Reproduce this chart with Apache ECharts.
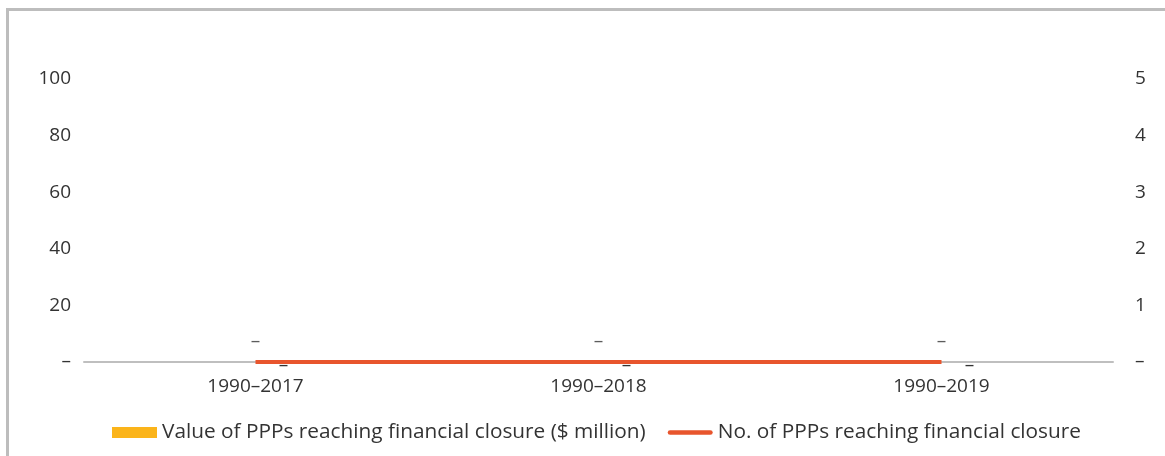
<!DOCTYPE html>
<html>
<head>
<meta charset="utf-8">
<script src="https://cdn.jsdelivr.net/npm/echarts@6/dist/echarts.min.js"></script>
<style>
  html, body { margin: 0; padding: 0; background: #fff; }
  #frame { position: absolute; left: 6px; top: 8px; width: 1159px; height: 448px;
           border-top: 3px solid #bdbdbd; border-left: 3px solid #bdbdbd; }
  #chart { position: absolute; left: 0; top: 0; width: 1165px; height: 456px; }
</style>
</head>
<body>
<div id="frame"></div>
<div id="chart"></div>
<script>
// Periods and cumulative PPP figures
const categories = ['1990–2017', '1990–2018', '1990–2019'];
const ppValue = [0, 0, 0];      // $ million
const ppCount = [0, 0, 0];      // number of PPPs
const leftTicks = { min: 0, max: 100, interval: 20 };
const rightTicks = { min: 0, max: 5, interval: 1 };

const valueName = 'Value of PPPs reaching financial closure ($ million)';
const countName = 'No. of PPPs reaching financial closure';

const dash = v => (Number(v) === 0 ? '–' : String(v));
const font = '"Open Sans", "Noto Sans", sans-serif';
const axisFont = 19;
const lineColor = '#E8552D';
// rounded stroke used as the legend key of the count line
const lineKey = 'path://M2.5,0H45.5A2.5,2.5 0 0 1 45.5,5H2.5A2.5,2.5 0 0 1 2.5,0Z';

const chart = echarts.init(document.getElementById('chart'), null, { renderer: 'canvas' });
chart.setOption({
  animation: false,
  textStyle: { fontFamily: font, color: '#333' },
  grid: { left: 84, right: 52, top: 79, bottom: 94, containLabel: false },
  legend: {
    left: 107, top: 417,
    itemWidth: 45, itemHeight: 11, itemGap: 22,
    textStyle: { fontFamily: font, fontSize: 20.8, color: '#333' },
    data: [
      { name: valueName, icon: 'rect' },
      { name: countName, icon: lineKey, itemStyle: { color: lineColor } }
    ]
  },
  xAxis: {
    type: 'category',
    data: categories,
    axisLine: { lineStyle: { color: '#bfbfbf', width: 2 } },
    axisTick: { show: false },
    axisLabel: { fontSize: axisFont, color: '#333', margin: 15, fontFamily: font }
  },
  yAxis: [
    {
      type: 'value', ...leftTicks,
      splitLine: { show: false },
      axisLine: { show: false }, axisTick: { show: false },
      axisLabel: { fontSize: axisFont, color: '#333', margin: 13, formatter: dash, fontFamily: font }
    },
    {
      type: 'value', ...rightTicks,
      splitLine: { show: false },
      axisLine: { show: false }, axisTick: { show: false },
      axisLabel: { fontSize: axisFont, color: '#333', margin: 22, formatter: dash, fontFamily: font }
    }
  ],
  series: [
    {
      name: countName,
      type: 'line',
      yAxisIndex: 1,
      z: 2,
      data: ppCount,
      symbol: 'none',
      lineStyle: { color: lineColor, width: 4 },
      itemStyle: { color: lineColor }
    },
    {
      name: valueName,
      type: 'bar',
      yAxisIndex: 0,
      z: 3,
      data: ppValue,
      barWidth: 40,
      itemStyle: { color: '#FBB41A' },
      label: {
        show: true, position: 'inside', offset: [28, 4],
        formatter: p => dash(p.value), fontSize: axisFont, color: '#333', fontFamily: font
      }
    },
    {
      // value labels for the count line
      name: 'countLabels',
      type: 'scatter',
      yAxisIndex: 1,
      z: 3,
      data: ppCount,
      symbolSize: 0,
      silent: true,
      label: {
        show: true, position: 'top', distance: 11,
        formatter: p => dash(p.value), fontSize: axisFont, color: '#333', fontFamily: font
      }
    }
  ]
});
</script>
</body>
</html>
